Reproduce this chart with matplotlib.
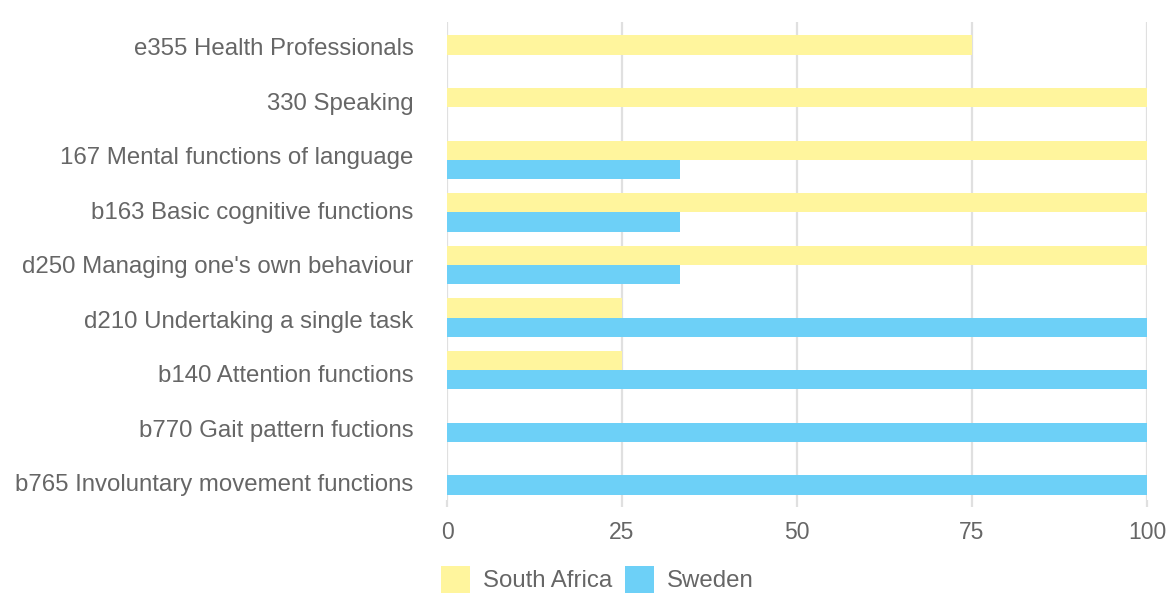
import numpy as np
import matplotlib.pyplot as plt

plt.rcParams['font.family'] = ['Liberation Sans', 'DejaVu Sans']

categories = ["e355 Health Professionals", "330 Speaking",
              "167 Mental functions of language", "b163 Basic cognitive functions",
              "d250 Managing one's own behaviour", "d210 Undertaking a single task",
              "b140 Attention functions", "b770 Gait pattern fuctions",
              "b765 Involuntary movement functions"]
south_africa = [75, 100, 100, 100, 100, 25, 25, 0, 0]
sweden = [0, 0, 33.3, 33.3, 33.3, 100, 100, 100, 100]
xticks = [0, 25, 50, 75, 100]

yellow = '#FFF59D'
blue = '#6DD0F7'
grey = '#666666'

fig = plt.figure(figsize=(11.69, 5.97), dpi=100)
ax = fig.add_axes([0.3824, 0.1625, 0.5988, 0.8012])

idx = np.arange(len(categories))
h = 0.367
ax.barh(idx - h / 2, south_africa, height=h, color=yellow, label='South Africa', zorder=2)
ax.barh(idx + h / 2, sweden, height=h, color=blue, label='Sweden', zorder=2)

ax.set_xlim(0, 100)
ax.set_ylim(8.47, -0.63)
ax.set_xticks(xticks)
ax.set_xticklabels([str(t) for t in xticks])
# labels sit slightly apart from the bar centres in the original
ax.set_yticks(idx * 54.5 / 52.6 - 0.15)
ax.set_yticklabels(categories)

ax.grid(axis='x', color='#e0e0e0', linewidth=1.6, zorder=0)
ax.set_axisbelow(True)
for s in ax.spines.values():
    s.set_visible(False)
ax.tick_params(axis='y', length=0, pad=24, labelsize=17.3, labelcolor=grey)
ax.tick_params(axis='x', length=5, width=1.6, color='#e0e0e0', pad=10,
               labelsize=16.5, labelcolor=grey)

fig.legend(loc='lower center', bbox_to_anchor=(0.511, -0.03), ncol=2, frameon=False,
           fontsize=17.3, labelcolor=grey, handlelength=1.2, handleheight=1.4,
           handletextpad=0.55, columnspacing=0.55)

fig.savefig('out.png', dpi=100)
